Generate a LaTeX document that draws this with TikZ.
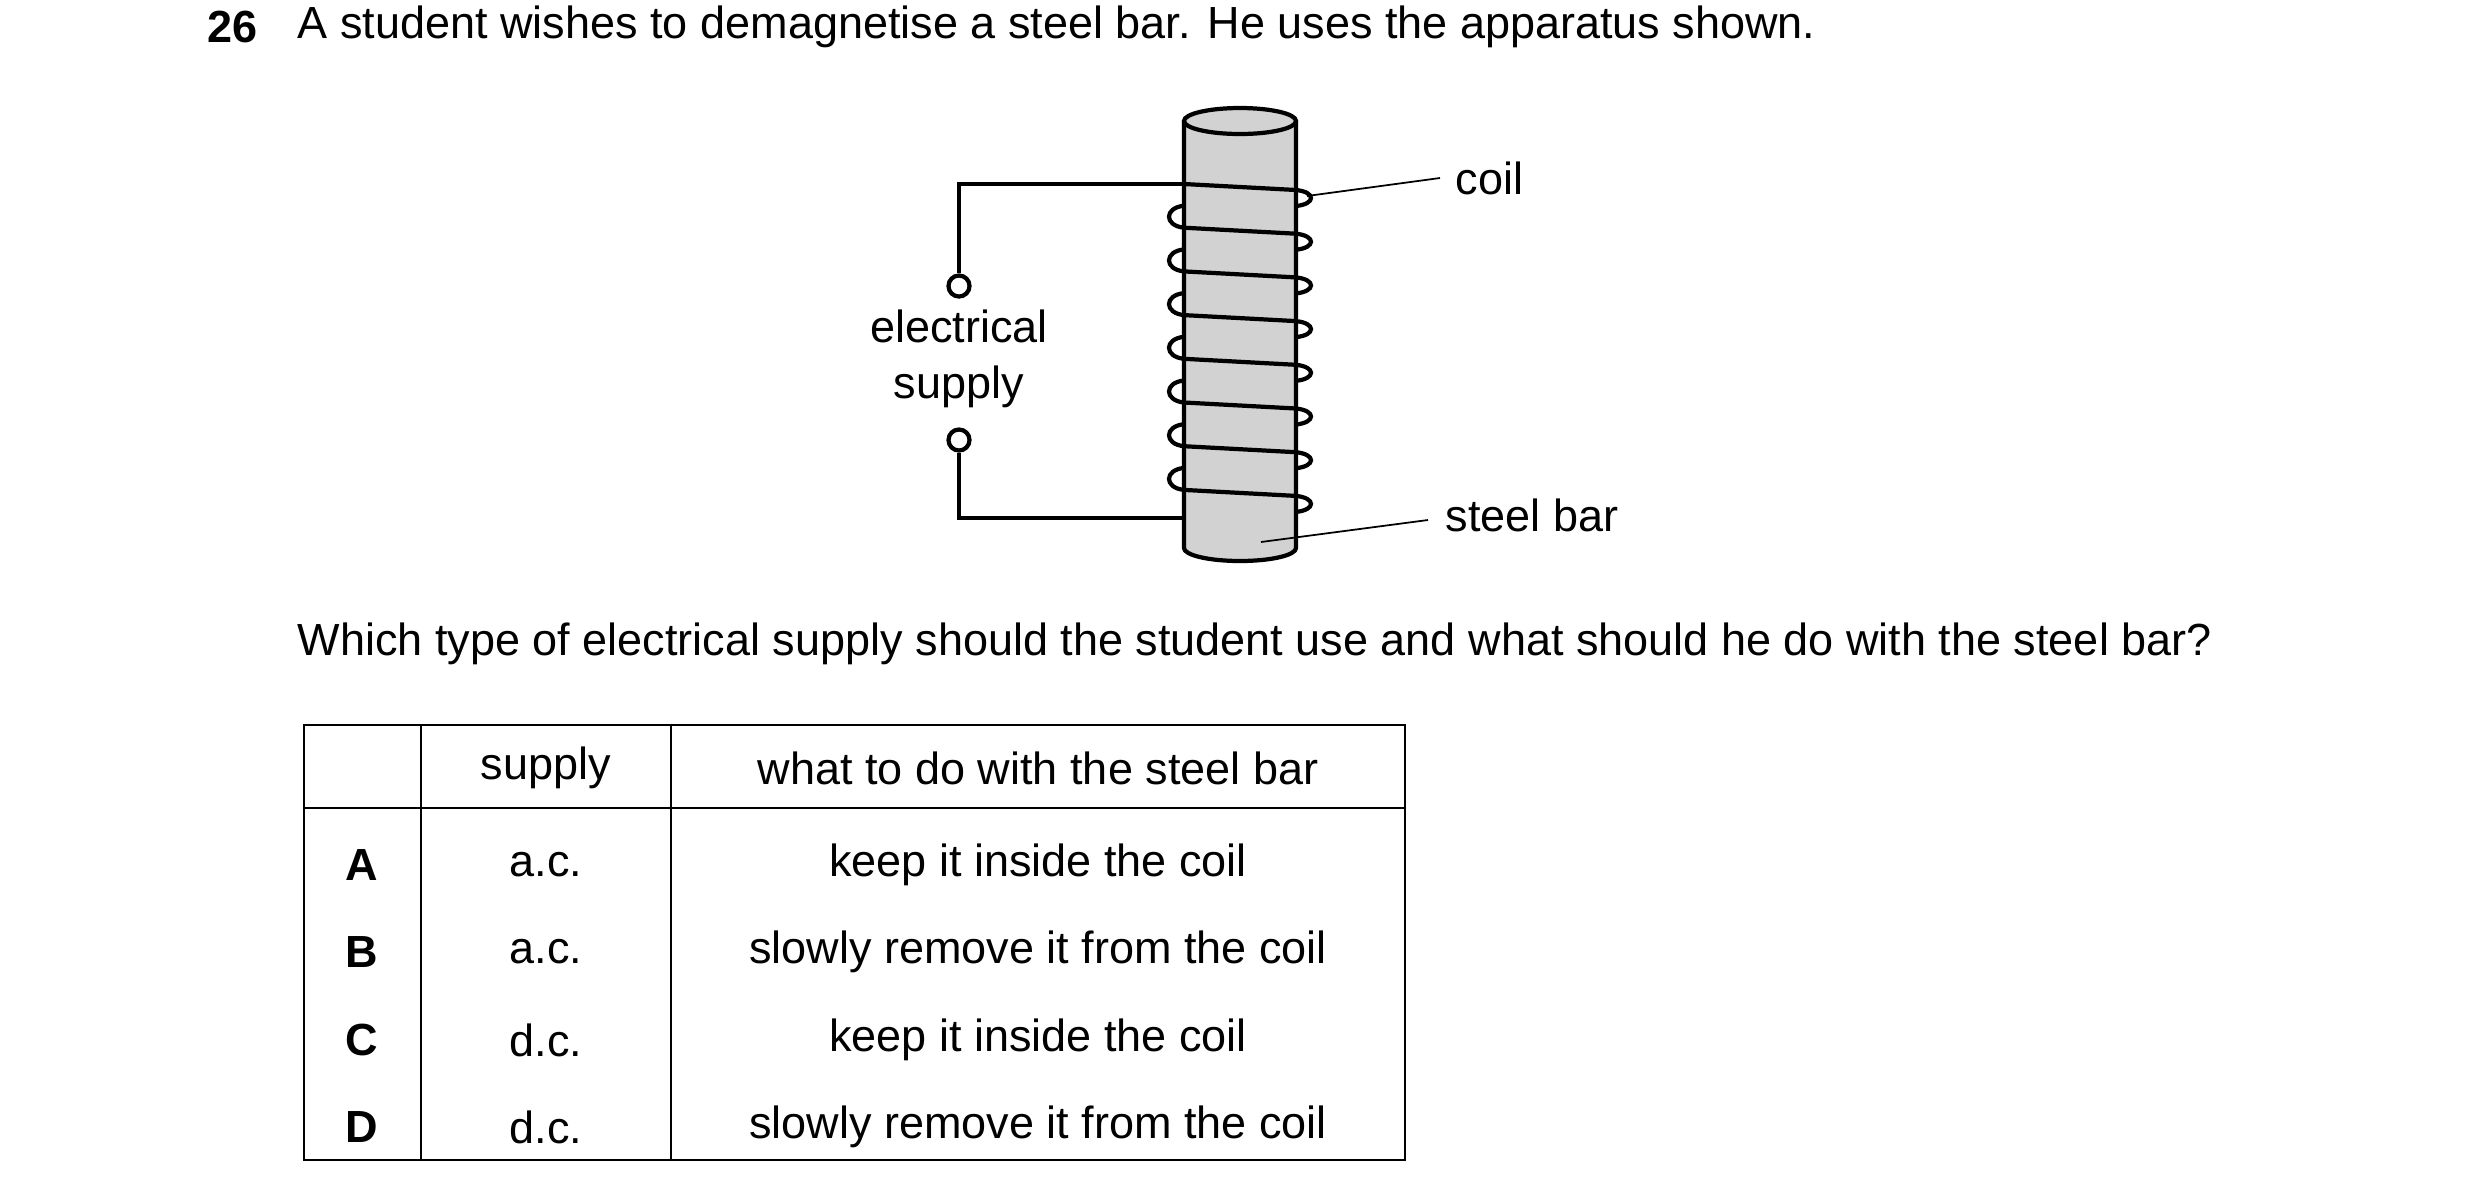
\documentclass[tikz,border=0pt]{standalone}
\usepackage{fontspec}
\setmainfont{Liberation Sans}
\begin{document}
\begin{tikzpicture}[x=0.01cm,y=-0.01cm,
  txt/.style={font=\fontsize{12.8}{14}\selectfont, inner sep=0pt},
  wire/.style={line width=1.2pt},
  tab/.style={line width=0.7pt},
  lead/.style={line width=0.5pt}]
\useasboundingbox (0,0) rectangle (2480,1196);
% heading
\node[txt,anchor=west,font=\fontsize{12.8}{14}\selectfont\bfseries] (num) at (207,27) {26};
\node[txt,anchor=west] (q) at (297,27) {A student wishes to demagnetise a steel bar. He uses the apparatus shown.};
% bar
\def\xL{1184}\def\xR{1296}
\fill[gray!35] (\xL,121) -- (\xL,548) arc[start angle=180,end angle=0,x radius=56,y radius=13] -- (\xR,121) -- cycle;
\draw[wire,fill=gray!35] (1240,121) ellipse[x radius=56,y radius=13];
\draw[wire] (\xL,121) -- (\xL,548) arc[start angle=180,end angle=0,x radius=56,y radius=13] -- (\xR,121);
\coordinate (barL) at (\xL,184);
% coil
\foreach \i in {0,...,7}{
  \pgfmathsetmacro\y{184+43.7*\i}
  \draw[wire] (\xL,\y) -- (\xR,\y+6) .. controls (\xR+20,\y+8) and (\xR+20,\y+20) .. (\xR,\y+22);
  \ifnum\i>0
  \draw[wire] (\xL,\y-22) .. controls (\xL-20,\y-20) and (\xL-20,\y-2) .. (\xL,\y);
  \fi
}
% circuit
\node[draw,circle,wire,minimum size=0.21cm,inner sep=0pt] (t1) at (959,286) {};
\node[draw,circle,wire,minimum size=0.21cm,inner sep=0pt] (t2) at (959,440) {};
\coordinate (barB) at (\xL,518);
\draw[wire] (t1.north) |- (barL);
\draw[wire] (t2.south) |- (barB);
\node[txt,align=center] (es) at (959,359) {electrical\\[2pt]supply};
% labels
\node[txt,anchor=west] (coil) at (1455,178) {coil};
\node[txt,anchor=west] (steel) at (1445,515) {steel bar};
\coordinate (c1) at (1307,196); \coordinate (s1) at (1261,542);
\draw[lead] (c1) -- ([xshift=-0.15cm]coil.west);
\draw[lead] (s1) -- ([xshift=-0.17cm,yshift=-0.05cm]steel.west);
% question
\node[txt,anchor=west] (q2) at (297,644) {Which type of electrical supply should the student use and what should he do with the steel bar?};
% table
\draw[tab] (304,725) rectangle (1405,1160);
\draw[tab] (304,808) -- (1405,808);
\draw[tab] (421,725) -- (421,1160);
\draw[tab] (671,725) -- (671,1160);
\node[txt] (h1) at (546,768) {supply};
\node[txt] (h2) at (1038,768) {what to do with the steel bar};
\foreach \l/\s/\w/\y in {A/a.c./keep it inside the coil/865, B/a.c./slowly remove it from the coil/952, C/d.c./keep it inside the coil/1040, D/d.c./slowly remove it from the coil/1127}{
  \node[txt,font=\fontsize{12.8}{14}\selectfont\bfseries] (r\l) at (362,\y) {\l};
  \node[txt] (s\l) at (546,\y) {\s};
  \node[txt] (w\l) at (1038,\y) {\w};
}
\end{tikzpicture}
\end{document}
